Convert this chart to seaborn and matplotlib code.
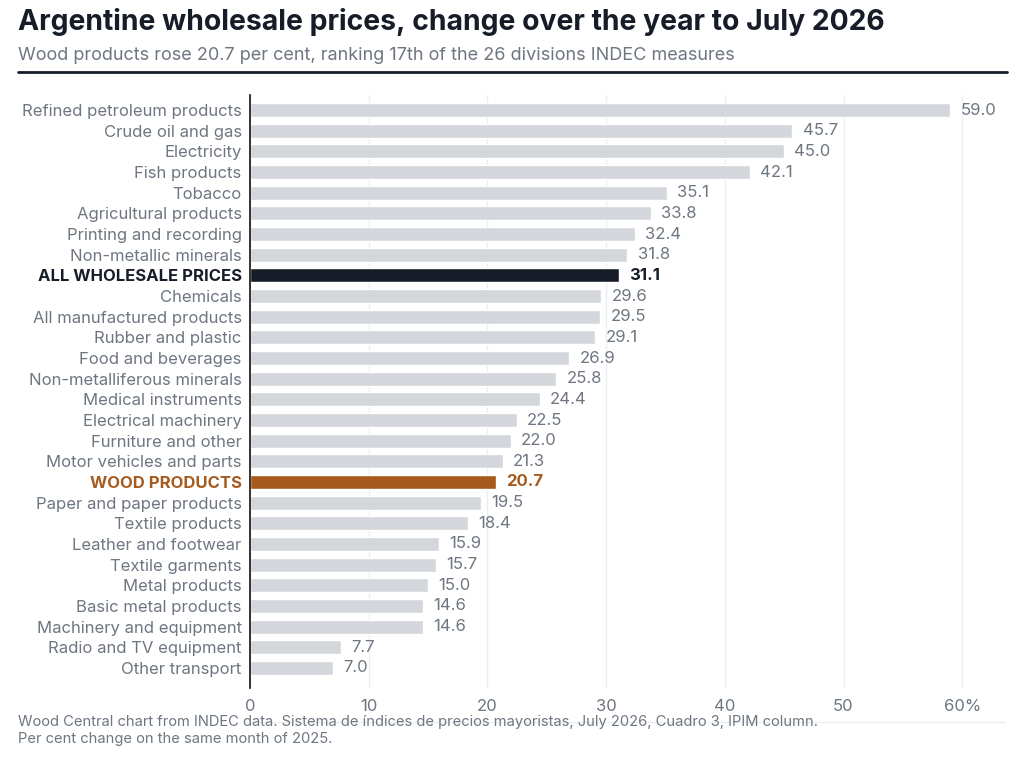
import matplotlib
matplotlib.use("Agg")
import matplotlib.pyplot as plt
import seaborn as sns
import pandas as pd

# Data
categories = [
    "Refined petroleum products", "Crude oil and gas", "Electricity", "Fish products",
    "Tobacco", "Agricultural products", "Printing and recording", "Non-metallic minerals",
    "ALL WHOLESALE PRICES", "Chemicals", "All manufactured products", "Rubber and plastic",
    "Food and beverages", "Non-metalliferous minerals", "Medical instruments",
    "Electrical machinery", "Furniture and other", "Motor vehicles and parts",
    "WOOD PRODUCTS", "Paper and paper products", "Textile products", "Leather and footwear",
    "Textile garments", "Metal products", "Basic metal products", "Machinery and equipment",
    "Radio and TV equipment", "Other transport",
]
values = [59.0, 45.7, 45.0, 42.1, 35.1, 33.8, 32.4, 31.8, 31.1, 29.6, 29.5, 29.1,
          26.9, 25.8, 24.4, 22.5, 22.0, 21.3, 20.7, 19.5, 18.4, 15.9, 15.7, 15.0,
          14.6, 14.6, 7.7, 7.0]
x_ticks = [0, 10, 20, 30, 40, 50, 60]
x_tick_labels = ["0", "10", "20", "30", "40", "50", "60%"]

GREY_BAR = "#d3d7db"
DARK = "#161d29"
WOOD = "#a65a1d"
TEXT_GREY = "#6e7681"

sns.set_theme(style="white")
plt.rcParams["font.family"] = ["Inter", "DejaVu Sans"]

df = pd.DataFrame({"category": categories, "value": values})

def bar_colour(name):
    if name == "ALL WHOLESALE PRICES":
        return DARK
    if name == "WOOD PRODUCTS":
        return WOOD
    return GREY_BAR

palette = {c: bar_colour(c) for c in categories}

fig = plt.figure(figsize=(10.24, 7.68), dpi=100)
ax = fig.add_axes([250 / 1024, 1 - 688 / 768, (1005 - 250) / 1024, (688 - 95) / 768])

sns.barplot(data=df, x="value", y="category", hue="category", palette=palette,
            legend=False, width=0.68, ax=ax, saturation=1, zorder=2)

ax.set_xlim(0, 755 / 118.7 * 10)
ax.set_ylim(len(categories) - 1 + 0.97, -0.73)
ax.set_xticks(x_ticks)
ax.set_xticklabels(x_tick_labels)
ax.set_xlabel("")
ax.set_ylabel("")
ax.grid(axis="x", color="#ebedef", linewidth=1, zorder=0)
ax.set_axisbelow(True)
for side in ["top", "right", "bottom"]:
    ax.spines[side].set_visible(False)
ax.spines["left"].set_color("#111111")
ax.spines["left"].set_linewidth(1.2)
ax.spines["left"].set_zorder(3)
ax.tick_params(axis="both", length=0, labelsize=12, colors=TEXT_GREY)
ax.tick_params(axis="y", pad=6)
ax.tick_params(axis="x", pad=8)

for lbl in ax.get_yticklabels():
    name = lbl.get_text()
    if name == "ALL WHOLESALE PRICES":
        lbl.set_color(DARK)
        lbl.set_fontweight("bold")
    elif name == "WOOD PRODUCTS":
        lbl.set_color(WOOD)
        lbl.set_fontweight("bold")

for i, (name, val) in enumerate(zip(categories, values)):
    colour, weight = TEXT_GREY, "normal"
    if name == "ALL WHOLESALE PRICES":
        colour, weight = DARK, "bold"
    elif name == "WOOD PRODUCTS":
        colour, weight = WOOD, "bold"
    ax.text(val + 0.85, i, f"{val:.1f}", va="center", ha="left",
            fontsize=12, color=colour, fontweight=weight)

# Title block
fig.text(18 / 1024, 1 - 22 / 768, "Argentine wholesale prices, change over the year to July 2026",
         fontsize=20.4, fontweight="bold", color=DARK, va="center", ha="left")
fig.text(18 / 1024, 1 - 55 / 768,
         "Wood products rose 20.7 per cent, ranking 17th of the 26 divisions INDEC measures",
         fontsize=13, color=TEXT_GREY, va="center", ha="left")
fig.add_artist(plt.Line2D([18 / 1024, 1007 / 1024], [1 - 72 / 768, 1 - 72 / 768],
                          color=DARK, linewidth=2, transform=fig.transFigure))

# Footer
fig.add_artist(plt.Line2D([250 / 1024, 1005 / 1024], [1 - 722 / 768, 1 - 722 / 768],
                          color="#eeeff1", linewidth=1, transform=fig.transFigure, zorder=0))
fig.text(18 / 1024, 1 - 722 / 768,
         "Wood Central chart from INDEC data. Sistema de índices de precios mayoristas, July 2026, Cuadro 3, IPIM column.",
         fontsize=10.6, color=TEXT_GREY, va="center", ha="left", zorder=2)
fig.text(18 / 1024, 1 - 739 / 768, "Per cent change on the same month of 2025.",
         fontsize=10.6, color=TEXT_GREY, va="center", ha="left")

fig.savefig("out.png", dpi=100, facecolor="white")
plt.close(fig)
